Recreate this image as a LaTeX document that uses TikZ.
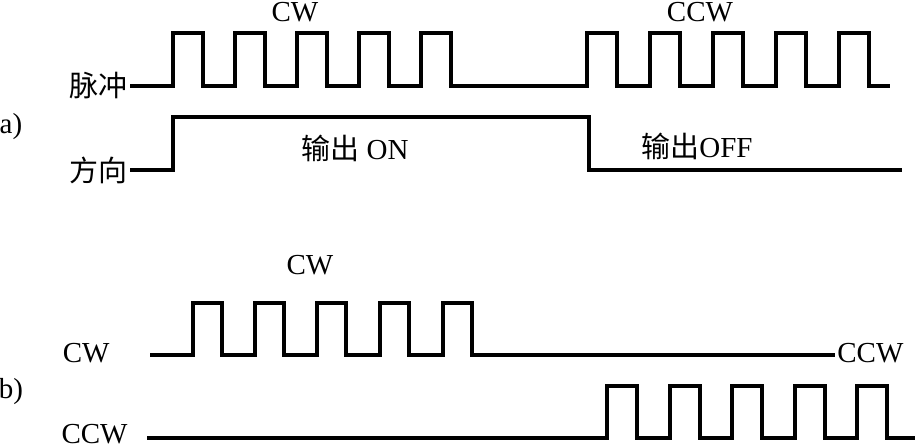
\documentclass[tikz,border=0pt]{standalone}
\usepackage{fontspec}
\setmainfont{Liberation Serif}
\newfontfamily\cjk{Noto Sans CJK SC}
\usepackage{tikz}
\usetikzlibrary{positioning}

\begin{document}
\begin{tikzpicture}[x=0.5pt,y=-0.5pt,
every node/.style={font=\fontsize{14.5pt}{16pt}\selectfont,inner sep=1pt},
sig/.style={line width=1.6pt,line join=miter}]
\useasboundingbox (0,0) rectangle (917,448);
% a) pulse + direction
\node (lbla) at (11,127) {a)};
\node[anchor=east] (pulse) at (130,86) {\cjk 脉冲};
\node[anchor=east] (dir) at (130,170) {\cjk 方向};
\node (cwtop) at (295,12) {CW};
\node (ccwtop) at (700,12) {CCW};
\node (on) at (355,148) {{\cjk 输出} ON};
\node (off) at (697,146) {{\cjk 输出}OFF};
\draw[sig] (pulse.east) foreach \x in {173,235,297,359,421}
{ -- (\x,86) -- (\x,33) -- (\x+30,33) -- (\x+30,86) }
foreach \x in {587,650,713,776,839}
{ -- (\x,86) -- (\x,33) -- (\x+30,33) -- (\x+30,86) } -- (890,86);
\draw[sig] (dir.east) -- (173,170) -- (173,117) -- (589,117) -- (589,170) -- (902,170);
% b) CW / CCW
\node (lblb) at (11,392) {b)};
\node[anchor=east] (cwin) at (112,353) {CW};
\node[anchor=east] (ccwin) at (130,434) {CCW};
\node (cwmid) at (310,265) {CW};
\node[anchor=west] (ccwend) at (835,353) {CCW};
\coordinate (cws) at (150,355);
\coordinate (ccws) at (147,438);
\draw[sig] (cws) foreach \x in {193,255,317,380,443}
{ -- (\x,355) -- (\x,303) -- (\x+29,303) -- (\x+29,355) } -- (ccwend.west |- cws);
\draw[sig] (ccws) foreach \x in {607,670,732,795,857}
{ -- (\x,438) -- (\x,386) -- (\x+30,386) -- (\x+30,438) } -- (915,438);
\end{tikzpicture}
\end{document}
